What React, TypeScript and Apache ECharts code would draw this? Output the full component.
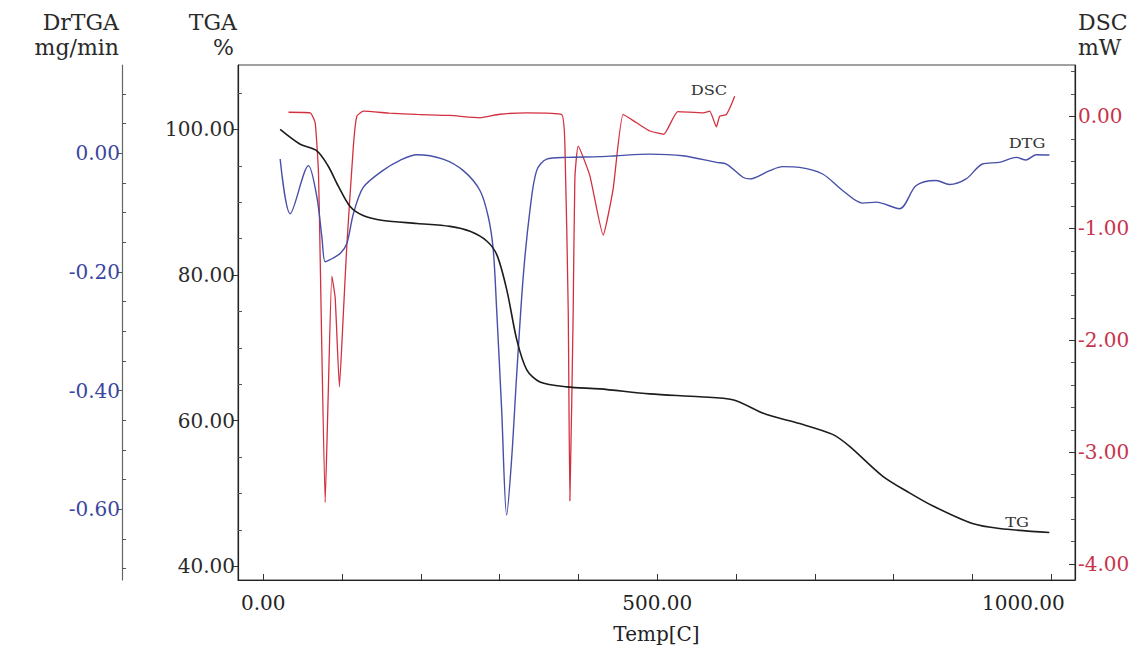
import React, { useEffect, useRef } from "react";
import * as echarts from "echarts";

// ---- Data ----
const tgTemp = [21.5, 46.9, 68.1, 82.4, 95.1, 110.3, 126.7, 152.1, 195.2, 237.0, 262.4, 283.9, 296.6, 309.3, 321.9, 334.6, 351.1, 385.3, 427.1, 490.5, 553.9, 595.7, 638.8, 680.6, 722.4, 744.0, 785.8, 820.0, 849.2, 899.9, 934.1, 997.5];
const tgValue = [100.0, 97.96, 97.05, 94.97, 92.24, 89.39, 88.16, 87.48, 87.07, 86.67, 85.99, 84.63, 82.72, 77.82, 71.02, 66.94, 65.31, 64.63, 64.35, 63.67, 63.27, 62.86, 60.82, 59.59, 58.1, 56.46, 52.38, 50.07, 48.3, 45.85, 45.17, 44.63];

const dtgTemp = [21.5, 34.2, 57.4, 68.1, 74.4, 78.6, 84.9, 97.6, 106.1, 114.4, 127.1, 152.1, 173.6, 194.8, 228.1, 253.9, 275.0, 285.6, 291.9, 296.2, 302.5, 308.9, 315.2, 321.5, 329.9, 338.4, 346.9, 359.6, 384.9, 427.1, 448.3, 490.5, 532.3, 575.0, 587.7, 608.7, 617.2, 642.6, 659.1, 680.6, 709.8, 735.1, 760.5, 777.8, 807.4, 828.5, 853.9, 870.7, 891.9, 912.5, 934.1, 955.3, 967.9, 980.6, 997.5];
const dtgValue = [-0.0095, -0.1017, -0.0206, -0.0737, -0.1407, -0.1826, -0.1792, -0.1687, -0.1519, -0.1017, -0.057, -0.0285, -0.0117, -0.0022, -0.0095, -0.029, -0.0625, -0.1072, -0.163, -0.2635, -0.431, -0.6097, -0.5147, -0.3752, -0.2077, -0.096, -0.029, -0.0095, -0.0067, -0.0055, -0.0039, -0.0012, -0.0039, -0.0151, -0.0179, -0.0402, -0.043, -0.029, -0.0223, -0.0235, -0.0347, -0.0625, -0.0838, -0.0821, -0.0933, -0.0541, -0.0457, -0.0524, -0.043, -0.0179, -0.0151, -0.0067, -0.0112, -0.0022, -0.0028];

const dscTemp = [32.1, 59.6, 65.9, 70.1, 72.2, 78.6, 82.4, 87.1, 91.3, 96.7, 101.4, 106.1, 114.4, 118.8, 127.1, 160.0, 194.8, 237.0, 275.0, 300.0, 334.2, 378.6, 382.8, 387.0, 389.1, 393.3, 395.4, 399.6, 414.4, 431.3, 444.0, 456.7, 473.6, 490.5, 508.2, 526.0, 558.1, 566.5, 575.0, 579.2, 587.7, 594.0, 598.2];
const dscValue = [0.038, 0.033, -0.056, -0.498, -1.236, -3.449, -2.504, -1.427, -1.62, -2.416, -1.8, -1.148, -0.263, 0.003, 0.047, 0.03, 0.018, 0.009, -0.012, 0.02, 0.033, 0.018, -0.263, -1.737, -3.434, -1.737, -0.558, -0.265, -0.528, -1.059, -0.646, 0.018, -0.056, -0.13, -0.159, 0.044, 0.033, 0.047, -0.093, 0.003, 0.018, 0.106, 0.18];

const xLabels = [0, 500, 1000];
const xTicks = [0, 100, 200, 300, 400, 500, 600, 700, 800, 900, 1000];
const tgaLabels = [40, 60, 80, 100];
const tgaMinor = [45, 50, 55, 65, 70, 75, 85, 90, 95, 105];
const drLabels = [-0.6, -0.4, -0.2, 0];
const drMinor = [-0.7, -0.65, -0.55, -0.5, -0.45, -0.35, -0.3, -0.25, -0.15, -0.1, -0.05, 0.05, 0.1];
const dscLabels = [-4, -3, -2, -1, 0];
const dscMinor = [-3.8, -3.6, -3.4, -3.2, -2.8, -2.6, -2.4, -2.2, -1.8, -1.6, -1.4, -1.2, -0.8, -0.6, -0.4, -0.2, 0.2, 0.4];

const FONT = "DejaVu Serif";
const RED = "#d2303f";
const BLUE = "#4650a8";
const BLACK = "#1c1c1c";
const LABEL_SIZE = 20;
const TITLE_SIZE = 22;

const zip = (a: number[], b: number[]) => a.map((v, i) => [v, b[i]]);
const fmt = (v: number) => Number(v).toFixed(2);

export default function App() {
  const ref = useRef<HTMLDivElement>(null);
  useEffect(() => {
    if (!ref.current) return;
    const chart = echarts.init(ref.current, undefined, { renderer: "svg" });
    const minorAxis = (min: number, max: number, values: number[], pos: string, offset: number, inside: boolean) => ({
      type: "value",
      min,
      max,
      position: pos,
      offset,
      axisLine: { show: false, onZero: false },
      splitLine: { show: false },
      axisLabel: { show: false, customValues: [] },
      axisTick: { show: true, inside, length: 4, customValues: values, lineStyle: { color: "#555", width: 1 } },
    });
    const title = (text: string, x: number, y: number, align: string) => ({
      type: "text", x, y,
      style: { text, font: `${TITLE_SIZE}px '${FONT}'`, fill: "#2a2a2a", align, verticalAlign: "middle" },
    });
    const tag = (text: string, x: number, y: number) => ({
      type: "text", x, y, scaleX: 1.35,
      style: { text, font: `12px '${FONT}'`, fill: "#333", align: "center", verticalAlign: "middle" },
    });
    const xRich = { fontFamily: FONT, fontSize: LABEL_SIZE, color: "#222" };
    chart.setOption({
      animation: false,
      backgroundColor: "#ffffff",
      grid: { left: 238, right: 65, top: 65, bottom: 64, show: true, borderColor: "#444", borderWidth: 1 },
      xAxis: {
        type: "value",
        min: -32,
        max: 1030,
        name: "Temp[C]",
        nameLocation: "middle",
        nameGap: 44,
        nameTextStyle: { fontFamily: FONT, fontSize: LABEL_SIZE, color: "#222" },
        axisLine: { onZero: false, lineStyle: { color: "#222", width: 1.2 } },
        axisTick: { inside: true, length: 6, customValues: xTicks, lineStyle: { color: "#333" } },
        axisLabel: {
          customValues: xLabels,
          formatter: (v: number) => (v >= 1000 ? `{e|${fmt(v)}}` : `{n|${fmt(v)}}`),
          rich: { n: xRich, e: { ...xRich, padding: [0, 56, 0, 0] } },
          fontFamily: FONT, fontSize: LABEL_SIZE, color: "#222", margin: 13,
        },
        splitLine: { show: false },
      },
      yAxis: [
        {
          type: "value",
          min: 38.1,
          max: 108.84,
          position: "left",
          offset: 0,
          axisLine: { show: true, onZero: false, lineStyle: { color: "#222", width: 1.2 } },
          axisTick: { show: true, inside: false, length: 5, customValues: tgaLabels, lineStyle: { color: "#333" } },
          axisLabel: { customValues: tgaLabels, formatter: fmt, fontFamily: FONT, fontSize: LABEL_SIZE, color: "#2a2a2a", margin: 3 },
          splitLine: { show: false },
        },
        {
          type: "value",
          min: -0.719,
          max: 0.149,
          position: "left",
          offset: 116,
          axisLine: { show: true, onZero: false, lineStyle: { color: "#666", width: 1.2 } },
          axisTick: { show: true, inside: false, length: 5, customValues: drLabels, lineStyle: { color: "#555" } },
          axisLabel: { customValues: drLabels, formatter: fmt, fontFamily: FONT, fontSize: LABEL_SIZE, color: "#3a45a0", margin: 2 },
          splitLine: { show: false },
        },
        {
          type: "value",
          min: -4.142,
          max: 0.46,
          position: "right",
          offset: 0,
          axisLine: { show: true, onZero: false, lineStyle: { color: "#222", width: 1.2 } },
          axisTick: { show: true, inside: true, length: 6, customValues: dscLabels, lineStyle: { color: "#333" } },
          axisLabel: { customValues: dscLabels, formatter: fmt, fontFamily: FONT, fontSize: LABEL_SIZE, color: "#c8324b", margin: 3 },
          splitLine: { show: false },
        },
        minorAxis(38.1, 108.84, tgaMinor, "left", 0, true),
        minorAxis(-0.719, 0.149, drMinor, "left", 116, true),
        minorAxis(-4.142, 0.46, dscMinor, "right", 0, true),
      ],
      series: [
        {
          name: "DSC",
          type: "line",
          yAxisIndex: 2,
          data: zip(dscTemp, dscValue),
          showSymbol: false,
          smooth: 0.15,
          lineStyle: { color: RED, width: 1.3 },
        },
        {
          name: "DTG",
          type: "line",
          yAxisIndex: 1,
          data: zip(dtgTemp, dtgValue),
          showSymbol: false,
          smooth: 0.3,
          lineStyle: { color: BLUE, width: 1.4 },
        },
        {
          name: "TG",
          type: "line",
          yAxisIndex: 0,
          data: zip(tgTemp, tgValue),
          showSymbol: false,
          smooth: 0.3,
          lineStyle: { color: BLACK, width: 1.6 },
        },
      ],
      graphic: [
        title("DrTGA", 119, 22, "right"),
        title("mg/min", 119, 47, "right"),
        title("TGA", 237, 22, "right"),
        title("%", 234, 47, "right"),
        title("DSC", 1078, 22, "left"),
        title("mW", 1078, 47, "left"),
        tag("DSC", 709, 91),
        tag("DTG", 1027, 144),
        tag("TG", 1017, 523),
      ],
    });
    return () => chart.dispose();
  }, []);
  return <div ref={ref} style={{ width: 1140, height: 649, position: "absolute", left: 0, top: 0 }} />;
}
